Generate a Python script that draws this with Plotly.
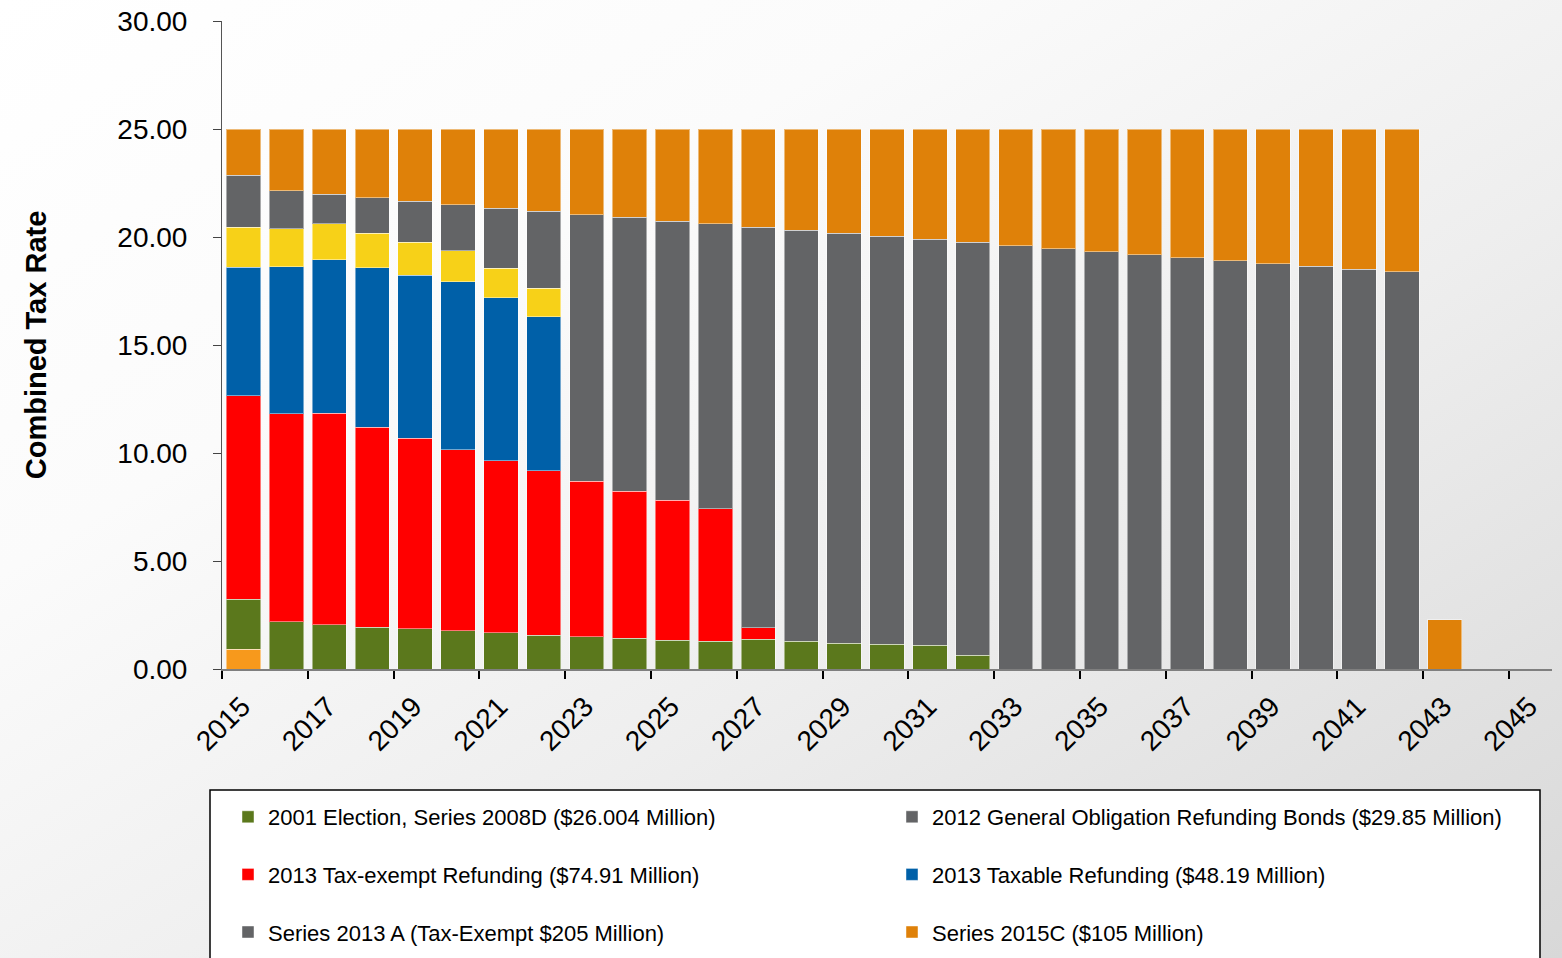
import base64
import plotly.graph_objects as go

# ---- data -------------------------------------------------------------
years = list(range(2015, 2044))            # one bar per levy year
tick_years = list(range(2015, 2046, 2))    # labelled axis ticks

early_issue = [0.91] + [None] * 28
series_2008d = [2.33, 2.18, 2.04, 1.94, 1.87, 1.76, 1.67, 1.57, 1.50, 1.42,
                1.34, 1.28, 1.38, 1.28, 1.20, 1.14, 1.10, 0.63] + [None] * 11
tax_exempt_2013 = [9.40, 9.63, 9.81, 9.26, 8.82, 8.38, 7.96, 7.60, 7.19, 6.81,
                   6.47, 6.14, 0.53] + [None] * 16
taxable_2013 = [5.96, 6.82, 7.09, 7.38, 7.55, 7.78, 7.56, 7.14] + [None] * 21
other_issue = [1.85, 1.75, 1.68, 1.59, 1.51, 1.45, 1.37, 1.32] + [None] * 21
go_2012 = [2.41, 1.76, 1.36, 1.64, 1.90, 2.13, 2.77, 3.56] + [None] * 21
series_2013a = [None] * 8 + [12.34, 12.68, 12.93, 13.20, 18.55, 19.03, 18.97,
                             18.89, 18.79, 19.12, 19.60, 19.46, 19.32, 19.18,
                             19.04, 18.90, 18.76, 18.64, 18.50, 18.38] + [None]
series_2015c = [2.14, 2.86, 3.02, 3.19, 3.35, 3.50, 3.67, 3.81, 3.97, 4.09,
                4.26, 4.38, 4.54, 4.69, 4.83, 4.97, 5.11, 5.25, 5.40, 5.54,
                5.68, 5.82, 5.96, 6.10, 6.24, 6.36, 6.50, 6.62, 2.27]

# (values, name, colour, legend, rank) in stacking order, bottom to top
series = [
    (early_issue, "Earlier Issue", "#f7991c", None, 0),
    (series_2008d, "2001 Election, Series 2008D ($26.004 Million)", "#5b781c", "legend", 1),
    (tax_exempt_2013, "2013 Tax-exempt Refunding ($74.91 Million)", "#ff0000", "legend", 2),
    (taxable_2013, "2013 Taxable Refunding ($48.19 Million)", "#0060a8", "legend2", 2),
    (other_issue, "Other Issue", "#f7d118", None, 0),
    (go_2012, "2012 General Obligation Refunding Bonds ($29.85 Million)", "#636466", "legend2", 1),
    (series_2013a, "Series 2013 A (Tax-Exempt $205 Million)", "#636466", "legend", 3),
    (series_2015c, "Series 2015C ($105 Million)", "#df8109", "legend2", 3),
]

FONT = "Liberation Sans, Arial, sans-serif"
W, H = 1562, 958
PL, PR, PT, PB = 222, 10, 21, 289          # plot-area margins in px
PW, PH = W - PL - PR, H - PT - PB


def px_x(px):
    return (px - PL) / PW


def px_y(py):
    return (H - PB - py) / PH


fig = go.Figure()
for vals, name, color, leg, rank in series:
    fig.add_trace(go.Bar(
        x=years, y=vals, name=name,
        width=0.8, offset=0.1,
        marker=dict(color=color, line=dict(color="rgba(255,255,255,0.45)", width=1)),
        showlegend=leg is not None,
        legend=leg if leg else "legend",
        legendgroup=name, legendrank=rank,
    ))

# soft diagonal page background
svg = (
    f'<svg xmlns="http://www.w3.org/2000/svg" width="{W}" height="{H}" '
    f'viewBox="0 0 {W} {H}" preserveAspectRatio="none">'
    '<defs><linearGradient id="g" x1="0" y1="0" x2="1" y2="1">'
    '<stop offset="0" stop-color="#ffffff"/>'
    '<stop offset="0.3" stop-color="#fbfbfb"/>'
    '<stop offset="0.6" stop-color="#eeeeee"/>'
    '<stop offset="1" stop-color="#d8d8d8"/>'
    '</linearGradient></defs>'
    f'<rect width="{W}" height="{H}" fill="url(#g)"/></svg>'
)
bg_src = "data:image/svg+xml;base64," + base64.b64encode(svg.encode()).decode()

legend_style = dict(
    orientation="v", traceorder="grouped", tracegroupgap=26,
    font=dict(family=FONT, size=22, color="#000000"),
    bgcolor="rgba(0,0,0,0)", borderwidth=0,
    xanchor="left", yanchor="top", itemclick=False,
)

fig.update_layout(
    width=W, height=H,
    margin=dict(l=PL, r=PR, t=PT, b=PB, autoexpand=False),
    barmode="stack",
    paper_bgcolor="#ffffff",
    plot_bgcolor="rgba(0,0,0,0)",
    font=dict(family=FONT, color="#000000"),
    images=[dict(source=bg_src, xref="paper", yref="paper",
                 x=px_x(0), y=px_y(0), sizex=W / PW, sizey=H / PH,
                 xanchor="left", yanchor="top", sizing="stretch",
                 layer="below")],
    shapes=[dict(type="rect", xref="paper", yref="paper",
                 x0=px_x(210), x1=px_x(1540), y0=px_y(1010), y1=px_y(790),
                 fillcolor="#ffffff", line=dict(color="#000000", width=1.5),
                 layer="below")],
    legend=dict(legend_style, x=px_x(228), y=px_y(796)),
    legend2=dict(legend_style, x=px_x(892), y=px_y(796)),
    xaxis=dict(
        range=[2015, 2046], tickmode="array", tickvals=tick_years,
        ticktext=[str(t) for t in tick_years],
        tickangle=-45, ticks="outside", ticklen=8, tickwidth=1.5,
        tickcolor="#000000", ticklabelshift=20,
        tickfont=dict(family=FONT, size=28, color="#000000"),
        showline=True, linecolor="#7f7f7f", linewidth=2,
        showgrid=False, zeroline=False, fixedrange=True,
    ),
    yaxis=dict(
        range=[0, 30], dtick=5, tickformat=".2f",
        ticks="outside", ticklen=8, tickcolor="#444444",
        ticklabelstandoff=20,
        tickfont=dict(family=FONT, size=28, color="#000000"),
        showline=True, linecolor="#555555", linewidth=1,
        showgrid=False, zeroline=False, fixedrange=True,
        title=dict(text="Combined Tax Rate", standoff=62,
                   font=dict(family=FONT, size=29, color="#000000", weight="bold")),
    ),
)

fig.write_html("out.html")
